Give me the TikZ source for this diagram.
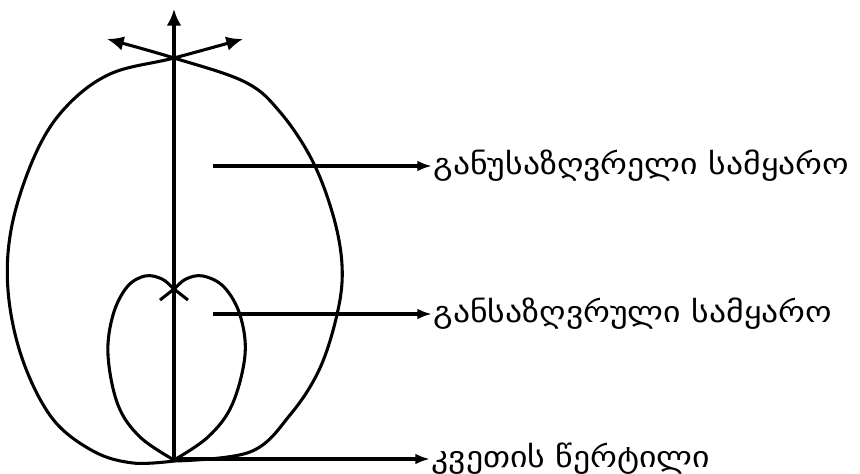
\documentclass[tikz,border=0pt]{standalone}
\usepackage{fontspec}
\newfontfamily\geofont[FakeStretch=1.15]{DejaVu Sans}
\usetikzlibrary{arrows.meta,positioning}

\begin{document}
\begin{tikzpicture}[x=0.75pt, y=-0.75pt, line width=2.3pt,
  big/.style={-{Latex[length=12.5pt,width=11pt]}},
  arr/.style={-{Latex[length=11pt,width=8pt]}},
  lbl/.style={anchor=west, inner sep=0pt, font=\geofont\fontsize{22}{25}\selectfont}]
  \useasboundingbox (0,0) rectangle (860,474);

  \coordinate (O) at (174,459);
  \coordinate (top) at (174,9);

  % outer curves, crossing at the top
  \draw[big] plot[smooth, tension=0.6] coordinates {(174,461) (133,463) (93,451) (52,418) (22,358) (8,290) (12,225) (35,155) (65,108) (110,74) (174,58) (243,39)};
  \draw[big] plot[smooth, tension=0.6] coordinates {(174,461) (250,452) (290,415) (320,368) (338,310) (342,265) (333,215) (312,160) (280,112) (245,82) (174,58) (107,39)};

  % inner curves
  \draw plot[smooth, tension=0.6] coordinates {(174,460) (140,437) (118,405) (108,355) (113,315) (127,287) (145,276) (162,279) (174,289) (188,300)};
  \draw plot[smooth, tension=0.6] coordinates {(174,460) (208,437) (232,405) (245,355) (240,315) (224,287) (203,276) (186,279) (174,289) (160,300)};

  % axis
  \draw[big] (O) -- (top);

  \node[lbl] (outer) at (432,166) {განუსაზღვრელი სამყარო};
  \node[lbl] (inner) at (432,314) {განსაზღვრული სამყარო};
  \node[lbl] (cross) at (430,459) {კვეთის წერტილი};

  \coordinate (a1) at (213,166);
  \coordinate (a2) at (213,314);

  \draw[arr] (a1) -- (outer);
  \draw[arr] (a2) -- (inner);
  \draw[arr] (O) -- (cross);
\end{tikzpicture}
\end{document}
